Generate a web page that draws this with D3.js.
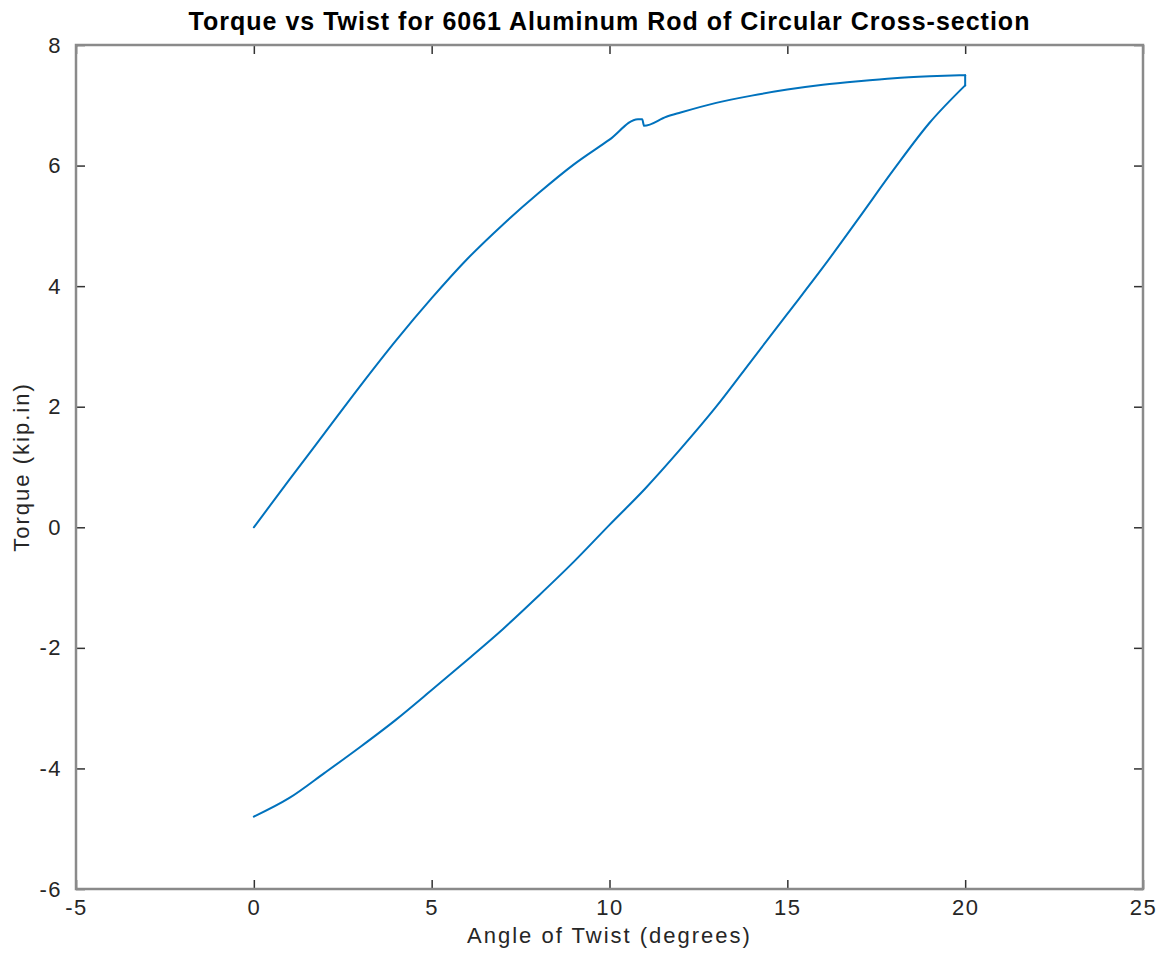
<!DOCTYPE html>
<html>
<head>
<meta charset="utf-8">
<script src="https://cdn.jsdelivr.net/npm/d3@7"></script>
<style>
  body { margin: 0; background: #fff; }
  text { font-family: "Liberation Sans", Arial, sans-serif; }
</style>
</head>
<body>
<svg id="chart" width="1170" height="953"></svg>
<script>
// loading branch: angle of twist (degrees) vs torque (kip.in)
var loadTwist  = [0, 1, 2, 3, 4, 5, 6, 7, 8, 9, 10, 10.8, 10.92, 10.97,
                  11.6, 12, 13, 14, 15, 16, 17, 18, 19, 20];
var loadTorque = [0, 0.79, 1.57, 2.35, 3.10, 3.80, 4.45, 5.02, 5.54, 6.02, 6.43, 6.77, 6.77, 6.66,
                  6.81, 6.88, 7.04, 7.16, 7.26, 7.34, 7.40, 7.45, 7.48, 7.50];
// unloading branch (drawn from 20 back to 0)
var unloadTwist  = [20, 19, 18, 17, 16, 15, 14, 13, 12, 11, 10, 9, 8, 7, 6, 5, 4, 3, 2, 1, 0];
var unloadTorque = [7.33, 6.71, 5.94, 5.12, 4.31, 3.54, 2.77, 2.00, 1.30, 0.64, 0.04, -0.57,
                    -1.14, -1.69, -2.20, -2.70, -3.19, -3.64, -4.07, -4.49, -4.80];

var xTicks = [-5, 0, 5, 10, 15, 20, 25],
    yTicks = [-6, -4, -2, 0, 2, 4, 6, 8];

var svg = d3.select("#chart"),
    margin = {top: 45, right: 27, bottom: 64, left: 76},
    width = +svg.attr("width") - margin.left - margin.right,
    height = +svg.attr("height") - margin.top - margin.bottom;

var x = d3.scaleLinear().domain([-5, 25]).range([0, width]),
    y = d3.scaleLinear().domain([-6, 8]).range([height, 0]);

var g = svg.append("g")
  .attr("transform", "translate(" + margin.left + "," + margin.top + ")");

var smooth = d3.line()
  .x(function(d) { return x(d[0]); })
  .y(function(d) { return y(d[1]); })
  .curve(d3.curveMonotoneX);
var straight = d3.line()
  .x(function(d) { return x(d[0]); })
  .y(function(d) { return y(d[1]); });

var loading = loadTwist.map(function(d, i) { return [d, loadTorque[i]]; }),
    unloading = unloadTwist.map(function(d, i) { return [d, unloadTorque[i]]; });

// loading, drop at max twist, unloading
var pieces = [
  smooth(loading),
  straight([loading[loading.length - 1], unloading[0]]),
  smooth(unloading.slice().reverse())
];
g.selectAll("path.curve")
  .data(pieces)
  .enter().append("path")
  .attr("class", "curve")
  .attr("d", function(d) { return d; })
  .attr("fill", "none")
  .attr("stroke", "#0072BD")
  .attr("stroke-width", 2)
  .attr("stroke-linecap", "round")
  .attr("stroke-linejoin", "round");

// axes: ticks inward on all four sides
function styleAxis(sel) {
  sel.select(".domain").remove();
  sel.selectAll(".tick line").attr("stroke", "#333").attr("stroke-width", 1.5);
  sel.selectAll("text")
    .attr("fill", "#262626")
    .style("font-size", "22px")
    .style("letter-spacing", "1.5px");
}
var fmt = function(d) { return String(d); };

g.append("g")
  .attr("transform", "translate(0," + height + ")")
  .call(d3.axisBottom(x).tickValues(xTicks).tickSize(-9).tickFormat(fmt))
  .call(styleAxis)
  .selectAll("text").attr("y", 26).attr("dy", 0);
g.append("g")
  .call(d3.axisTop(x).tickValues(xTicks).tickSize(-9).tickFormat(""))
  .call(styleAxis);
g.append("g")
  .call(d3.axisLeft(y).tickValues(yTicks).tickSize(-9).tickPadding(14).tickFormat(fmt))
  .call(styleAxis);
g.append("g")
  .attr("transform", "translate(" + width + ",0)")
  .call(d3.axisRight(y).tickValues(yTicks).tickSize(-9).tickFormat(""))
  .call(styleAxis);

// frame
g.append("rect")
  .attr("width", width)
  .attr("height", height)
  .attr("fill", "none")
  .attr("stroke", "#8a8a8a")
  .attr("stroke-width", 2.5);

// title and labels
svg.append("text")
  .attr("x", margin.left + width / 2)
  .attr("y", 30)
  .attr("text-anchor", "middle")
  .style("font-size", "25px")
  .style("font-weight", "bold")
  .style("letter-spacing", "1px")
  .attr("fill", "#000")
  .text("Torque vs Twist for 6061 Aluminum Rod of Circular Cross-section");

svg.append("text")
  .attr("x", margin.left + width / 2)
  .attr("y", 943)
  .attr("text-anchor", "middle")
  .style("font-size", "22px")
  .style("letter-spacing", "2px")
  .attr("fill", "#262626")
  .text("Angle of Twist (degrees)");

svg.append("text")
  .attr("transform", "translate(29," + (margin.top + height / 2) + ") rotate(-90)")
  .attr("text-anchor", "middle")
  .style("font-size", "22px")
  .style("letter-spacing", "2px")
  .attr("fill", "#262626")
  .text("Torque (kip.in)");
</script>
</body>
</html>
